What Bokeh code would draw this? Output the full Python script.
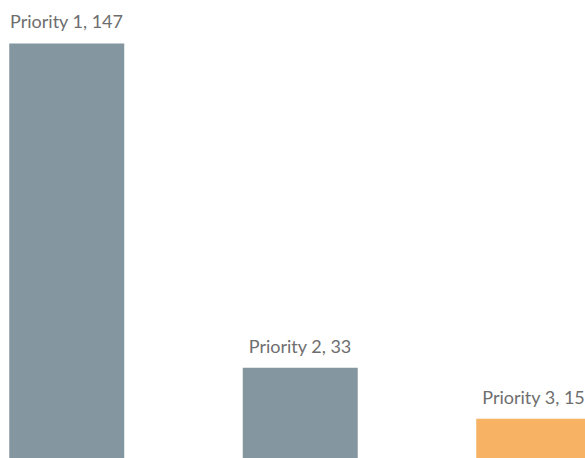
from bokeh.plotting import figure
from bokeh.models import ColumnDataSource, Range1d
from bokeh.core.properties import value
from bokeh.embed import file_html
from bokeh.resources import INLINE

categories = ["Priority 1", "Priority 2", "Priority 3"]
values = [147, 33, 15]
bar_colors = ["#84969f", "#84969f", "#f8b264"]

positions = list(range(len(categories)))
labels = [f"{c}, {v}" for c, v in zip(categories, values)]

source = ColumnDataSource(dict(x=positions, top=values, color=bar_colors, label=labels))

p = figure(width=585, height=458, output_backend="svg", toolbar_location=None,
           x_range=Range1d(-0.2837, 2.2217), y_range=Range1d(1.05, 162.12),
           min_border=0, min_border_left=0, min_border_right=0,
           min_border_top=0, min_border_bottom=0)
p.axis.visible = False
p.grid.visible = False
p.outline_line_color = None
p.background_fill_color = "white"

p.vbar(x="x", top="top", bottom=0, width=0.4925, color="color", line_color=None, source=source)

p.text(x="x", y="top", text="label", source=source, text_align="center",
       text_baseline="alphabetic", y_offset=-22, text_font=value("Lato"),
       text_font_size="18px", text_color="#6e6e6e")

open("out.html", "w").write(file_html(p, INLINE))
